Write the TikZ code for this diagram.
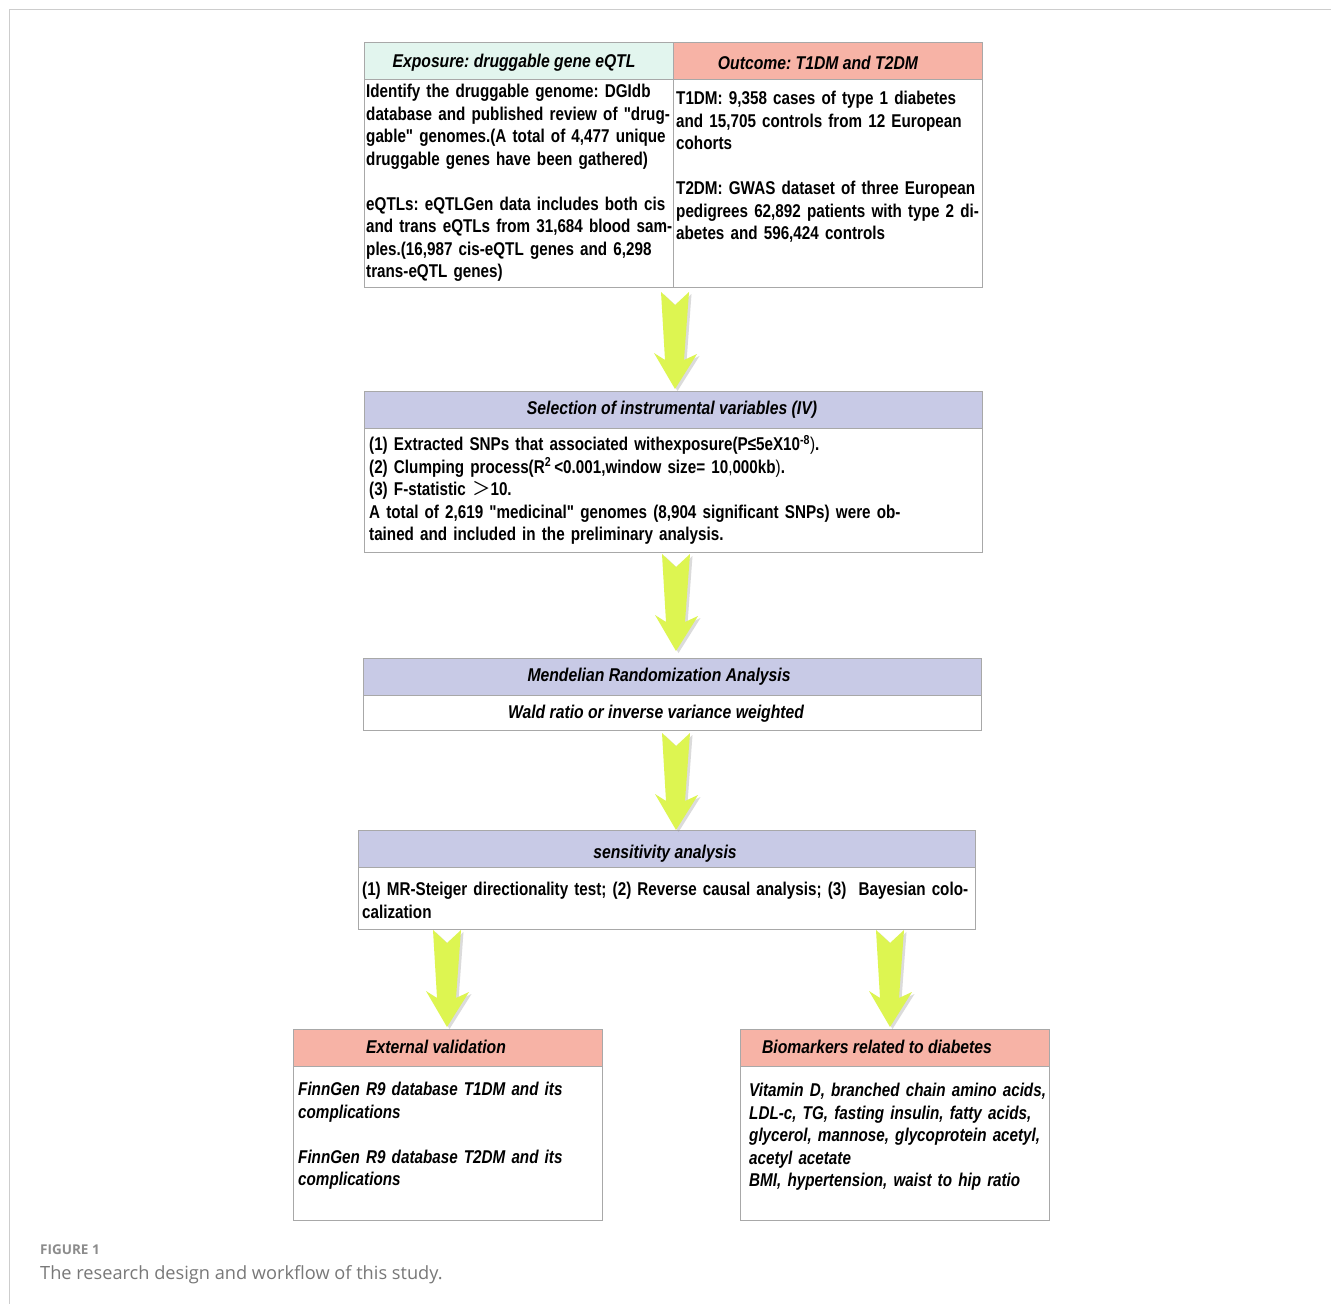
\documentclass[tikz,border=0pt]{standalone}
\usepackage{fontspec}
\setmainfont{Liberation Sans}
\newfontfamily\nar{Liberation Sans}[FakeStretch=0.85]
\newfontfamily\narb{Liberation Sans}[FakeStretch=0.823]
\newfontfamily\capfont{Open Sans}
\newfontfamily\cjk{Noto Sans CJK SC}
\definecolor{mint}{RGB}{226,245,238}
\definecolor{salmon}{RGB}{247,179,166}
\definecolor{lav}{RGB}{200,202,230}
\definecolor{arrowfill}{RGB}{221,245,81}
\definecolor{bord}{RGB}{168,168,168}
\definecolor{framegray}{RGB}{205,205,205}
\definecolor{capgray}{RGB}{120,120,120}
\frenchspacing
\tikzset{
  cell/.style={draw=bord, line width=0.9pt, inner sep=0pt, outer sep=0pt, anchor=north west},
  body/.style={font=\frenchspacing\narb\bfseries\fontsize{18.5}{22.5}\selectfont, inner sep=0pt, anchor=north west, align=left, text width=700},
  bodyit/.style={body, font=\frenchspacing\narb\bfseries\itshape\fontsize{18.5}{22.5}\selectfont},
  head/.style={font=\nar\bfseries\itshape\fontsize{18.5}{22.5}\selectfont, inner sep=0pt, anchor=base},
  blockarrow/.pic={
    \fill[black!40, opacity=0.35, shift={(2.5,2)}] (-14,0) -- (0,13) -- (14,0) -- (9,68) -- (22,62) -- (0,97) -- (-21,61) -- (-10,68) -- cycle;
    \fill[arrowfill] (-14,0) -- (0,13) -- (14,0) -- (9,68) -- (22,62) -- (0,97) -- (-21,61) -- (-10,68) -- cycle;
  }
}
\begin{document}
\begin{tikzpicture}[x=1pt,y=-1pt]
\useasboundingbox[fill=white] (0,0) rectangle (1331,1304);
% frame
\draw[framegray, line width=1pt] (9.5,1304) -- (9.5,9.5) -- (1331,9.5);

% ---- top table
\node[cell, fill=mint, minimum width=309, minimum height=37] (exph) at (364,42) {};
\node[cell, fill=salmon, minimum width=309, minimum height=37] (outh) at (673,42) {};
\node[cell, fill=white, minimum width=309, minimum height=208] (expb) at (364,79) {};
\node[cell, fill=white, minimum width=309, minimum height=208] (outb) at (673,79) {};
\node[head] (expht) at (514,67.5) {Exposure: druggable gene eQTL};
\node[head] (outht) at (818,69.5) {Outcome: T1DM and T2DM};
\node[body] (expbt) at (366,81.75) {\strut Identify the druggable genome: DGIdb\\
database and published review of "drug-\\
gable" genomes.(A total of 4,477 unique\\
druggable genes have been gathered)\\[22.5pt]
eQTLs: eQTLGen data includes both cis\\
and trans eQTLs from 31,684 blood sam-\\
ples.(16,987 cis-eQTL genes and 6,298\\
trans-eQTL genes)};
\node[body] (outbt) at (676,88.75) {\strut T1DM: 9,358 cases of type 1 diabetes\\
and 15,705 controls from 12 European\\
cohorts\\[22.5pt]
T2DM: GWAS dataset of three European\\
pedigrees 62,892 patients with type 2 di-\\
abetes and 596,424 controls};

% ---- selection
\node[cell, fill=lav, minimum width=618, minimum height=37] (selh) at (364,391) {};
\node[cell, fill=white, minimum width=618, minimum height=124] (selb) at (364,428) {};
\node[head] (selht) at (672,414.5) {Selection of instrumental variables (IV)};
\node[body] (selbt) at (369,434.75) {\strut (1) Extracted SNPs that associated withexposure(P≤5eX10\textsuperscript{-8}{\mdseries )}.\\
(2) Clumping process(R\textsuperscript{2}\,<0.001,window size= 10{\mdseries ,}000kb{\mdseries )}.\\
(3) F-statistic {\cjk\mdseries ＞}10.\\
A total of 2,619 "medicinal" genomes (8,904 significant SNPs) were ob-\\
tained and included in the preliminary analysis.};

% ---- MR
\node[cell, fill=lav, minimum width=618, minimum height=37] (mrh) at (363,658) {};
\node[cell, fill=white, minimum width=618, minimum height=35] (mrb) at (363,695) {};
\node[head] (mrht) at (659,681.5) {Mendelian Randomization Analysis};
\node[head] (mrbt) at (656,718.5) {Wald ratio or inverse variance weighted};

% ---- sensitivity
\node[cell, fill=lav, minimum width=617, minimum height=37] (senh) at (358,830) {};
\node[cell, fill=white, minimum width=617, minimum height=62] (senb) at (358,867) {};
\node[head] (senht) at (665,858.5) {sensitivity analysis};
\node[body] (senbt) at (362,879.75) {\strut (1) MR-Steiger directionality test; (2) Reverse causal analysis; (3)\ \ Bayesian colo-\\
calization};

% ---- external validation
\node[cell, fill=salmon, minimum width=309, minimum height=37] (exth) at (293,1029) {};
\node[cell, fill=white, minimum width=309, minimum height=154] (extb) at (293,1066) {};
\node[head] (extht) at (436,1053.5) {External validation};
\node[bodyit] (extbt) at (298,1079.75) {\strut FinnGen R9 database T1DM and its\\
complications\\[22.5pt]
FinnGen R9 database T2DM and its\\
complications};

% ---- biomarkers
\node[cell, fill=salmon, minimum width=309, minimum height=37] (bioh) at (740,1029) {};
\node[cell, fill=white, minimum width=309, minimum height=154] (biob) at (740,1066) {};
\node[head] (bioht) at (877,1053.5) {Biomarkers related to diabetes};
\node[bodyit] (biobt) at (749,1080.75) {\strut Vitamin D, branched chain amino acids,\\
LDL-c, TG, fasting insulin, fatty acids,\\
glycerol, mannose, glycoprotein acetyl,\\
acetyl acetate\\
BMI, hypertension, waist to hip ratio};

% ---- arrows
\pic at (675,292) {blockarrow};
\pic at (676,554) {blockarrow};
\pic at (676,733) {blockarrow};
\pic at (447,930) {blockarrow};
\pic at (890,930) {blockarrow};

% ---- caption
\node[font=\capfont\bfseries\fontsize{13.5}{16}\selectfont, text=capgray!85, anchor=base west, inner sep=0pt] (figlab) at (40,1254.5) {FIGURE 1};
\node[font=\capfont\fontsize{18.2}{21}\selectfont, text=capgray, anchor=base west, inner sep=0pt] (figcap) at (40,1279) {The research design and workflow of this study.};
\end{tikzpicture}
\end{document}
